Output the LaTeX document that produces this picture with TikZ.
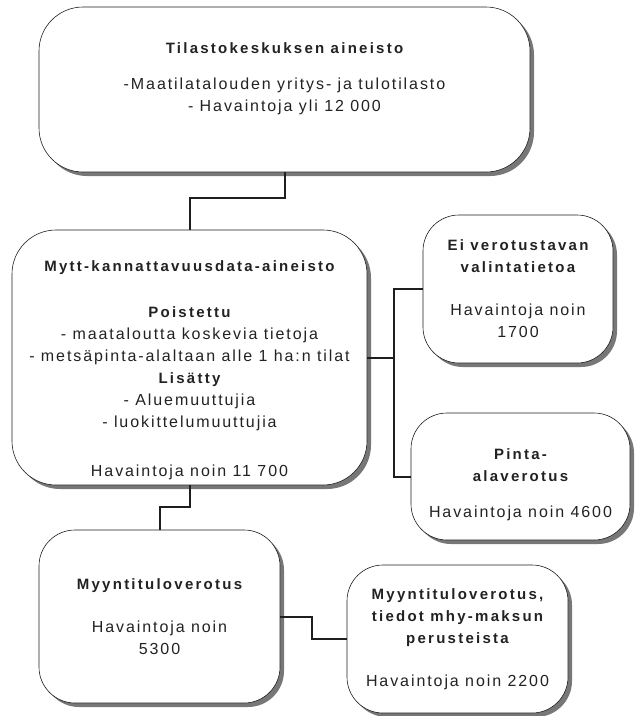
\documentclass[tikz,border=0pt]{standalone}
\usepackage{fontspec}
\setmainfont[LetterSpace=12,BoldFeatures={LetterSpace=15}]{Liberation Sans}
\usetikzlibrary{shadows}
\definecolor{lineDark}{HTML}{1E1E1E}
\definecolor{textDark}{HTML}{222222}
\definecolor{shadeGray}{HTML}{777777}
\newcommand{\boxhead}[1]{{\fontsize{15}{22}\selectfont\bfseries #1}}

\begin{document}
\begin{tikzpicture}[x=1pt,y=-1pt,every node/.style={font=\fontsize{16}{22}\selectfont}]
      \tikzstyle{databox}=[draw=lineDark,line width=0.6pt,fill=white,rounded corners=36pt,
                           align=center,inner sep=0pt,text=textDark,
                           drop shadow={shadow xshift=4pt,shadow yshift=-4pt,
                                        fill=shadeGray,opacity=1}]
      \tikzstyle{link}=[lineDark,line width=2pt]
      \useasboundingbox (0,0) rectangle (640,716);
      \node[databox,minimum width=491pt,minimum height=165pt,rounded corners=44pt] (src) at (284.5,89.5)
        {\boxhead{Tilastokeskuksen aineisto}\\[14pt]
         -Maatilatalouden yritys- ja tulotilasto\\
         - Havaintoja yli 12 000\rule[-25pt]{0pt}{1pt}};
      \node[databox,minimum width=355pt,minimum height=255pt,rounded corners=44pt] (mytt) at (189.5,357.5)
        {\rule{0pt}{37pt}\boxhead{Mytt-kannattavuusdata-aineisto}\\[23.5pt]
         \boxhead{Poistettu}\\
         - maataloutta koskevia tietoja\\
         - metsäpinta-alaltaan alle 1 ha:n tilat\\
         \boxhead{Lisätty}\\
         - Aluemuuttujia\\
         - luokittelumuuttujia\\[27.5pt]
         Havaintoja noin 11 700};
      \node[databox,minimum width=190pt,minimum height=148pt] (ei) at (518,289)
        {\boxhead{Ei verotustavan}\\
         \boxhead{valintatietoa}\\[21pt]
         Havaintoja noin\\
         1700};
      \node[databox,minimum width=219pt,minimum height=127pt] (pinta) at (520.5,476.5)
        {\rule{0pt}{27pt}\boxhead{Pinta-}\\
         \boxhead{alaverotus}\\[13.5pt]
         Havaintoja noin 4600};
      \node[databox,minimum width=241pt,minimum height=173pt] (myynti) at (159.5,616.5)
        {\boxhead{Myyntituloverotus}\\[21pt]
         Havaintoja noin\\
         5300};
      \node[databox,minimum width=221pt,minimum height=148pt] (mhy) at (457.5,639)
        {\boxhead{Myyntituloverotus,}\\
         \boxhead{tiedot mhy-maksun}\\
         \boxhead{perusteista}\\[21pt]
         Havaintoja noin 2200};
      \coordinate (jako) at (394,357.5);
      \draw[link] (src.south) -- ++(0,26) -| (mytt.north);
      \draw[link] (mytt.east) -- (jako);
      \draw[link] (ei.west) -| (jako) |- (pinta.west);
      \draw[link] (mytt.south) -- ++(0,22) -| (myynti.north);
      \draw[link] (myynti.east) -- ++(32,0) |- (mhy.west);
    \end{tikzpicture}
\end{document}
